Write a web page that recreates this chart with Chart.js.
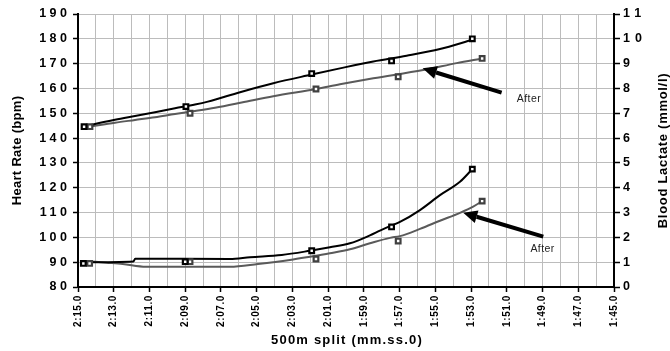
<!DOCTYPE html>
<html>
<head>
<meta charset="utf-8">
<script src="https://cdn.jsdelivr.net/npm/chart.js@4/dist/chart.umd.min.js"></script>
<style>
  html, body { margin: 0; padding: 0; background: #fff; }
  #wrap { width: 670px; height: 351px; }
</style>
</head>
<body>
<div id="wrap"><canvas id="chart"></canvas></div>
<script>
// 500m split in seconds (2:15.0 = 135 s)
const splitLabels = ['2:15.0', '2:13.0', '2:11.0', '2:09.0', '2:07.0', '2:05.0', '2:03.0', '2:01.0',
  '1:59.0', '1:57.0', '1:55.0', '1:53.0', '1:51.0', '1:49.0', '1:47.0', '1:45.0'];

// heart rate, before (black) - measured points
const hrTimeBefore = [134.66, 128.96, 121.92, 117.45, 112.93];
const hrBefore = [144.6, 152.7, 166.0, 171.1, 180.0];
// heart rate, after (grey) - measured points
const hrTimeAfter = [134.33, 128.73, 121.68, 117.08, 112.38];
const hrAfter = [144.6, 150.0, 159.8, 164.7, 172.1];

// heart rate curves
const hrCurveTimeBefore = [134.66, 134.05, 132.93, 131.81, 130.69, 129.57, 128.45, 127.73, 125.93, 124.07, 121.92, 120.34, 118.47, 116.61, 114.74, 112.93];
const hrCurveBefore = [144.6, 145.7, 147.4, 148.9, 150.4, 152.0, 153.5, 154.7, 158.5, 162.1, 165.6, 168.1, 170.9, 173.2, 175.9, 179.6];
const hrCurveTimeAfter = [134.33, 132.93, 131.81, 130.69, 129.57, 128.45, 127.33, 125.84, 124.07, 121.68, 120.34, 118.47, 115.68, 113.81, 112.38];
const hrCurveAfter = [144.6, 146.2, 147.3, 148.4, 149.7, 150.9, 152.2, 154.3, 156.9, 159.8, 161.7, 164.1, 167.4, 170.2, 172.1];

// blood lactate, measured points
const laTimeBefore = [134.7, 129.0, 121.92, 117.45, 112.93];
const laBefore = [0.95, 1.02, 1.46, 2.42, 4.75];
const laTimeAfter = [134.35, 128.73, 121.68, 117.08, 112.38];
const laAfter = [0.95, 1.02, 1.13, 1.85, 3.46];

// blood lactate curves
const laCurveTimeBefore = [134.66, 131.9, 131.8, 126.5, 125.37, 123.6, 122.02, 120.9, 119.78, 118.66, 118.1, 117.54, 116.98, 115.86, 114.74, 113.62, 112.93];
const laCurveBefore = [1.0, 1.03, 1.14, 1.13, 1.2, 1.29, 1.46, 1.6, 1.76, 2.08, 2.27, 2.45, 2.62, 3.1, 3.7, 4.24, 4.75];
const laCurveTimeAfter = [134.33, 133.4, 132.5, 131.2, 126.49, 124.93, 123.14, 122.02, 120.9, 119.78, 118.66, 117.54, 116.98, 115.86, 114.74, 113.62, 112.88, 112.38];
const laCurveAfter = [1.03, 0.98, 0.93, 0.82, 0.82, 0.93, 1.09, 1.22, 1.36, 1.52, 1.76, 1.98, 2.05, 2.34, 2.67, 2.99, 3.24, 3.46];

const pts = (xs, ys) => xs.map((x, i) => ({ x: x, y: ys[i] }));

const FONT = 'Arial, "Liberation Sans", sans-serif';
const GREY = '#5a5a5a';
const GRID = '#bcbcbc';

function curve(xs, ys, color, axis) {
  return { type: 'line', data: pts(xs, ys), yAxisID: axis, borderColor: color, borderWidth: 2,
    pointRadius: 0, cubicInterpolationMode: 'monotone', fill: false, order: 2 };
}
function marks(xs, ys, color, axis) {
  return { type: 'line', data: pts(xs, ys), yAxisID: axis, showLine: false, pointStyle: 'rect',
    pointRadius: 3.3, pointBorderWidth: 2.2, pointBorderColor: color, pointBackgroundColor: '#fff', order: 1 };
}

// widen the glyph spacing of a scale's tick labels
function spaced(px) {
  return scale => {
    if (scale._spaced) return;
    const orig = scale.drawLabels.bind(scale);
    scale.drawLabels = area => {
      const c = scale.ctx;
      c.save();
      c.letterSpacing = px;
      orig(area);
      c.restore();
    };
    scale._spaced = true;
  };
}

function arrow(ctx, x1, y1, x2, y2) {
  const ang = Math.atan2(y2 - y1, x2 - x1);
  const head = 14, half = 6.5;
  const bx = x2 - head * Math.cos(ang), by = y2 - head * Math.sin(ang);
  ctx.save();
  ctx.strokeStyle = '#000';
  ctx.fillStyle = '#000';
  ctx.lineWidth = 4;
  ctx.beginPath();
  ctx.moveTo(x1, y1);
  ctx.lineTo(bx, by);
  ctx.stroke();
  ctx.beginPath();
  ctx.moveTo(x2, y2);
  ctx.lineTo(bx + half * Math.sin(ang), by - half * Math.cos(ang));
  ctx.lineTo(bx - half * Math.sin(ang), by + half * Math.cos(ang));
  ctx.closePath();
  ctx.fill();
  ctx.restore();
}

const extras = {
  id: 'extras',
  afterDraw(chart) {
    const { ctx, scales: { x, y, y2 }, chartArea } = chart;
    arrow(ctx, x.getPixelForValue(111.29), y.getPixelForValue(158.3), x.getPixelForValue(115.71), y.getPixelForValue(168.1));
    arrow(ctx, x.getPixelForValue(108.96), y2.getPixelForValue(2.03), x.getPixelForValue(113.44), y2.getPixelForValue(2.99));

    ctx.save();
    ctx.fillStyle = '#222';
    ctx.font = '10.5px ' + FONT;
    ctx.letterSpacing = '0.4px';
    ctx.textAlign = 'center';
    ctx.textBaseline = 'middle';
    ctx.fillText('After', x.getPixelForValue(109.76), y.getPixelForValue(155.75));
    ctx.fillText('After', x.getPixelForValue(109.0), y2.getPixelForValue(1.53));

    // axis titles
    const midY = (chartArea.top + chartArea.bottom) / 2;
    ctx.fillStyle = '#000';
    ctx.font = 'bold 13px ' + FONT;
    ctx.letterSpacing = '1.2px';
    ctx.fillText('500m split (mm.ss.0)', (chartArea.left + chartArea.right) / 2 + 1, 340);
    ctx.letterSpacing = '0.3px';
    ctx.translate(17, midY);
    ctx.rotate(-Math.PI / 2);
    ctx.fillText('Heart Rate (bpm)', 0, 0);
    ctx.restore();

    ctx.save();
    ctx.fillStyle = '#000';
    ctx.font = 'bold 13px ' + FONT;
    ctx.letterSpacing = '0.7px';
    ctx.textAlign = 'center';
    ctx.textBaseline = 'middle';
    ctx.translate(663, midY);
    ctx.rotate(-Math.PI / 2);
    ctx.fillText('Blood Lactate (mmol/l)', 0, 0);
    ctx.restore();
  }
};

new Chart(document.getElementById('chart'), {
  type: 'line',
  data: {
    datasets: [
      curve(hrCurveTimeBefore, hrCurveBefore, '#000', 'y'),
      curve(hrCurveTimeAfter, hrCurveAfter, GREY, 'y'),
      curve(laCurveTimeBefore, laCurveBefore, '#000', 'y2'),
      curve(laCurveTimeAfter, laCurveAfter, GREY, 'y2'),
      marks(hrTimeBefore, hrBefore, '#000', 'y'),
      marks(hrTimeAfter, hrAfter, '#404040', 'y'),
      marks(laTimeBefore, laBefore, '#000', 'y2'),
      marks(laTimeAfter, laAfter, '#404040', 'y2')
    ]
  },
  options: {
    responsive: true,
    maintainAspectRatio: false,
    animation: false,
    devicePixelRatio: 1,
    layout: { padding: { top: 14, left: 0, right: 0, bottom: 0 } },
    plugins: { legend: { display: false }, tooltip: { enabled: false } },
    scales: {
      x: {
        type: 'linear',
        min: 105, max: 135,
        reverse: true,
        afterFit: s => { s.height = 64; },
        afterUpdate: spaced('0.6px'),
        ticks: {
          stepSize: 1, maxTicksLimit: 100, autoSkip: false,
          minRotation: 90, maxRotation: 90, padding: 3,
          color: '#000',
          font: { family: FONT, size: 10, weight: 'bold' },
          callback: v => ((135 - v) % 2 === 0 ? splitLabels[(135 - v) / 2] : '')
        },
        grid: {
          color: GRID, lineWidth: 1, tickLength: 5,
          tickColor: c => (c.tick && (135 - c.tick.value) % 2 === 0 ? '#000' : 'rgba(0,0,0,0)'),
          tickWidth: 1.5
        },
        border: { color: '#000', width: 2 }
      },
      y: {
        position: 'left',
        min: 80, max: 190,
        afterFit: s => { s.width = 78; },
        afterUpdate: spaced('3.5px'),
        ticks: { stepSize: 10, padding: 2.5, color: '#000', font: { family: FONT, size: 12.5, weight: 'bold' } },
        grid: { color: GRID, lineWidth: 1, tickLength: 5, tickColor: '#000', tickWidth: 1.5 },
        border: { color: '#000', width: 2 }
      },
      y2: {
        position: 'right',
        min: 0, max: 11,
        afterFit: s => { s.width = 56; },
        afterUpdate: spaced('5px'),
        ticks: { stepSize: 1, padding: 3, color: '#000', font: { family: FONT, size: 12.5, weight: 'bold' } },
        grid: { drawOnChartArea: false, tickLength: 6, tickColor: '#000', tickWidth: 1.5 },
        border: { color: '#000', width: 2 }
      }
    }
  },
  plugins: [extras]
});
</script>
</body>
</html>
